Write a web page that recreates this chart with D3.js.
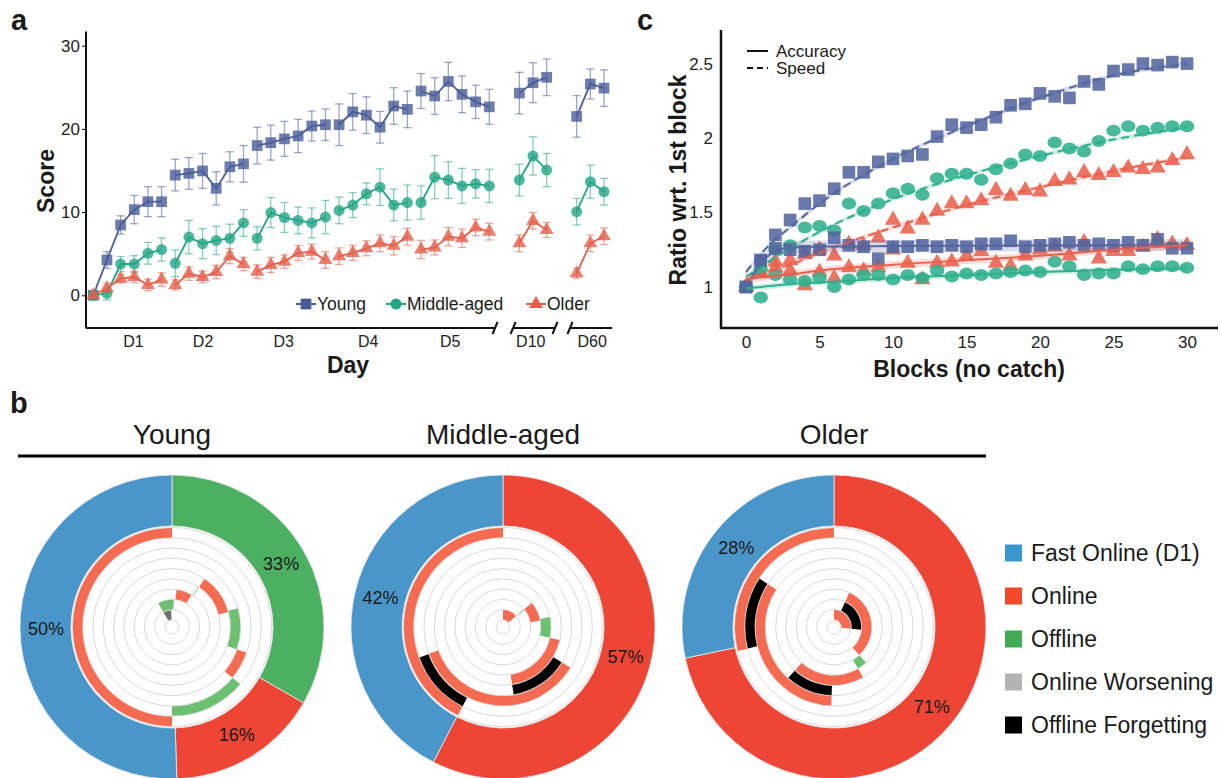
<!doctype html>
<html>
<head>
<meta charset="utf-8">
<script src="https://cdn.jsdelivr.net/npm/d3@7"></script>
<style>
  body { margin: 0; background: #fff; }
  svg text { font-family: Arial, "Liberation Sans", sans-serif; fill: #1a1a1a; }
</style>
</head>
<body>
<svg id="fig" width="1220" height="778"></svg>
<script>
// ---------------- panel a : scores per session ----------------
var groups = ["Young", "Middle-aged", "Older"];
var sessionNames = ["D1", "D2", "D3", "D4", "D5", "D10", "D60"];
var sessionSize = [6, 6, 6, 6, 6, 3, 3];
var slots = [0, 1, 2, 3, 4, 5, 6, 7, 8, 9, 10, 11, 12, 13, 14, 15, 16, 17,
             18, 19, 20, 21, 22, 23, 24, 25, 26, 27, 28, 29, 31.2, 32.2, 33.2, 35.4, 36.4, 37.4];
var dayTickPos = [2.9, 8.0, 13.9, 20.1, 26.1, 32.0, 36.5];

var scoreYoung = [0, 4.25, 8.45, 10.3, 11.25, 11.25, 14.45, 14.65, 14.95, 12.85, 15.45, 15.8,
                  18.0, 18.35, 18.8, 19.15, 20.35, 20.5, 20.5, 22.05, 21.65, 20.2, 22.75, 22.35,
                  24.55, 23.95, 25.7, 24.15, 23.25, 22.65, 24.3, 25.55, 26.2, 21.5, 25.4, 24.9];
var scoreMiddle = [0, 0.24, 3.76, 3.76, 5.05, 5.5, 3.85, 7.0, 6.2, 6.6, 6.85, 8.7,
                   6.85, 9.95, 9.35, 9.0, 8.7, 9.4, 10.2, 10.85, 12.2, 13.0, 10.85, 11.15,
                   11.15, 14.2, 13.85, 13.15, 13.4, 13.15, 13.85, 16.75, 15.05, 10.05, 13.65, 12.45];
var scoreOlder = [0, 0.84, 2.0, 2.2, 1.24, 1.9, 1.24, 2.6, 2.2, 2.8, 4.7, 3.75,
                  2.85, 3.65, 4.05, 5.1, 5.25, 4.25, 4.7, 5.1, 5.65, 6.25, 5.95, 7.05,
                  5.5, 5.75, 7.05, 6.85, 8.15, 7.65, 6.25, 8.95, 7.85, 2.65, 6.25, 7.1];
var errYoung = [0.4, 1.0, 1.1, 1.7, 1.8, 1.8, 1.9, 1.9, 2.1, 2.0, 1.8, 2.2,
                2.2, 2.1, 2.1, 2.0, 1.8, 1.9, 2.5, 2.2, 2.2, 1.9, 2.2, 2.2,
                2.1, 2.2, 2.3, 2.2, 2.0, 2.1, 2.5, 2.4, 2.2, 2.5, 1.8, 2.2];
var errMiddle = [0.3, 0.8, 0.9, 1.0, 1.3, 1.4, 1.6, 2.0, 1.8, 1.7, 1.7, 1.6,
                 1.4, 1.8, 1.8, 1.6, 1.8, 2.0, 1.6, 1.5, 1.3, 2.2, 1.9, 2.1,
                 2.0, 2.6, 2.2, 2.1, 1.7, 2.0, 1.9, 2.3, 2.0, 1.6, 2.0, 1.6];
var errOlder = [0.2, 0.6, 0.5, 0.7, 0.7, 0.8, 0.6, 0.8, 0.7, 0.8, 0.9, 0.8,
                0.8, 0.9, 0.8, 0.9, 0.9, 1.0, 1.0, 0.9, 0.9, 1.0, 1.1, 1.0,
                1.1, 0.9, 1.1, 1.1, 1.0, 1.0, 1.0, 1.0, 0.9, 0.6, 1.0, 1.0];

// ---------------- panel c : ratio to first block ----------------
var blocks = d3.range(31);
var speedYoung = [1.0, 1.18, 1.35, 1.45, 1.56, 1.58, 1.66, 1.77, 1.77, 1.84, 1.86, 1.88, 1.89, 2.01, 2.09, 2.07,
                  2.09, 2.14, 2.22, 2.23, 2.30, 2.28, 2.27, 2.38, 2.36, 2.45, 2.46, 2.50, 2.49, 2.51, 2.50];
var speedMiddle = [1.0, 1.12, 1.25, 1.28, 1.40, 1.41, 1.38, 1.56, 1.51, 1.56, 1.63, 1.66, 1.62, 1.73, 1.76, 1.76,
                   1.72, 1.79, 1.83, 1.89, 1.88, 1.97, 1.93, 1.91, 1.98, 2.05, 2.08, 2.05, 2.07, 2.08, 2.08];
var speedOlder = [1.0, 1.10, 1.17, 1.18, 1.22, 1.25, 1.21, 1.29, 1.28, 1.33, 1.45, 1.39, 1.45, 1.51, 1.56, 1.56,
                  1.58, 1.65, 1.61, 1.65, 1.64, 1.71, 1.72, 1.77, 1.75, 1.77, 1.80, 1.79, 1.80, 1.85, 1.89];
var accYoung = [1.0, 1.18, 1.26, 1.25, 1.24, 1.25, 1.33, 1.28, 1.27, 1.19, 1.27, 1.27, 1.28, 1.27, 1.28, 1.27,
                1.29, 1.29, 1.31, 1.27, 1.28, 1.29, 1.30, 1.28, 1.29, 1.28, 1.30, 1.28, 1.32, 1.26, 1.26];
var accMiddle = [1.0, 0.93, 1.08, 1.05, 1.04, 1.06, 1.0, 1.05, 1.08, 1.08, 1.05, 1.08, 1.06, 1.11, 1.07, 1.09,
                 1.08, 1.09, 1.10, 1.11, 1.10, 1.17, 1.14, 1.08, 1.09, 1.09, 1.14, 1.12, 1.14, 1.14, 1.13];
var accOlder = [1.0, 1.09, 1.13, 1.11, 1.01, 1.10, 1.06, 1.13, 1.11, 1.13, 1.25, 1.16, 1.05, 1.16, 1.17, 1.21,
                1.24, 1.16, 1.14, 1.21, 1.25, 1.27, 1.21, 1.30, 1.19, 1.24, 1.24, 1.27, 1.32, 1.29, 1.28];
var fitBlocks = [0, 1, 2, 3, 5, 10, 15, 20, 25, 30];
var fitSpeedYoung = [1.10, 1.22, 1.32, 1.40, 1.56, 1.86, 2.08, 2.27, 2.42, 2.50];
var fitSpeedMiddle = [1.07, 1.13, 1.20, 1.26, 1.37, 1.59, 1.75, 1.88, 1.99, 2.07];
var fitSpeedOlder = [1.05, 1.08, 1.12, 1.15, 1.23, 1.40, 1.55, 1.67, 1.78, 1.87];
var fitAccYoung = [1.00, 1.16, 1.24, 1.265, 1.272, 1.275, 1.277, 1.279, 1.28, 1.28];
var fitAccMiddle = [0.99, 1.0, 1.01, 1.02, 1.03, 1.06, 1.08, 1.10, 1.115, 1.125];
var fitAccOlder = [1.05, 1.065, 1.075, 1.085, 1.11, 1.15, 1.18, 1.21, 1.25, 1.28];
var fitCI = [0.015, 0.015, 0.015, 0.04, 0.02, 0.025];

// ---------------- panel b : learning components ----------------
var shareYoung = [33, 16, 50], shareYoungKind = ["off", "on", "fast"];
var shareMiddle = [57, 42], shareMiddleKind = ["on", "fast"];
var shareOlder = [71, 28], shareOlderKind = ["on", "fast"];
// [track (1 = innermost), from deg, to deg, kind]
var arcsYoung = [[9, 180, 360, "on"], [8, 130, 180, "off"], [7, 109, 130, "on"], [6, 74, 109, "off"],
                 [5, 34, 75, "on"], [4, 33, 34, "off"], [3, 7, 31, "on"], [2, -30, 4, "off"], [1, -30, -3, "worse"]];
var arcsMiddle = [[9, 207, 360, "on"], [8, 207, 250, "forget"], [7, 121, 250, "on"], [6, 121, 171, "forget"],
                  [5, 103, 171, "on"], [4, 78, 103, "off"], [3, 50, 80, "on"], [2, 49.5, 51, "off"], [1, 0, 50, "on"]];
var arcsOlder = [[9, 256, 360, "on"], [8, 256, 303, "forget"], [7, 182, 303, "on"], [6, 182, 222, "forget"],
                 [5, 150, 222, "on"], [4, 138, 150, "off"], [3, 24, 138, "on"], [2, 24, 96, "forget"], [1, 0, 96, "on"]];
var legendNames = ["Fast Online (D1)", "Online", "Offline", "Online Worsening", "Offline Forgetting"];

var colA = {"Young": "#4a5c99", "Middle-aged": "#22a585", "Older": "#e65f4b"};
var colC = {"Young": "#5466a0", "Middle-aged": "#2fb08d", "Older": "#ea604c"};
var shape = {"Young": d3.symbolSquare, "Middle-aged": d3.symbolCircle, "Older": d3.symbolTriangle};
var outerCol = {fast: "#4a96c8", on: "#ee4636", off: "#4caf62"};
var innerCol = {on: "#f46b51", off: "#6cc072", worse: "#707070", forget: "#000000"};
var legendCol = ["#3898cb", "#f24a28", "#40ab52", "#b3b3b3", "#000000"];

var svg = d3.select("#fig");

// ================= panel a =================
var xA = d3.scaleLinear().domain([0, 29]).range([93.3, 489.3]);
var yA = d3.scaleLinear().domain([0, 30]).range([295.3, 45.7]);
var gA = svg.append("g");

gA.append("text").attr("x", 11).attr("y", 30).text("a")
  .style("font-size", "29px").style("font-weight", "bold");

var yAx = gA.append("g").attr("transform", "translate(86,0)")
  .call(d3.axisLeft(yA).tickValues([0, 10, 20, 30]).tickSize(4).tickPadding(2));
yAx.select(".domain").remove();
yAx.selectAll("text").style("font-size", "17px").style("fill", "#222");
gA.append("line").attr("x1", 86).attr("x2", 86).attr("y1", yA(31.7)).attr("y2", yA(-3.95))
  .attr("stroke", "#111").attr("stroke-width", 2);

var xAx = gA.append("g").attr("transform", "translate(0,328)")
  .call(d3.axisBottom(xA).tickValues(dayTickPos).tickFormat(function(d, i) { return sessionNames[i]; })
  .tickSize(0).tickPadding(8));
xAx.select(".domain").remove();
xAx.selectAll("text").style("font-size", "16px").style("fill", "#222");

// broken x axis
var axisPieces = [[-0.53, 29.42], [30.74, 33.81], [34.91, 38.0]];
axisPieces.forEach(function(p, i) {
  gA.append("line").attr("x1", xA(p[0])).attr("x2", xA(p[1])).attr("y1", 328).attr("y2", 328)
    .attr("stroke", "#111").attr("stroke-width", 2);
  var ends = i === 0 ? [p[1]] : [p[0], p[1]];
  if (i === 2) ends = [p[0]];
  ends.forEach(function(e) {
    gA.append("line").attr("x1", xA(e) - 2.5).attr("x2", xA(e) + 2.5).attr("y1", 334).attr("y2", 322)
      .attr("stroke", "#111").attr("stroke-width", 2);
  });
});

gA.append("text").attr("x", 348).attr("y", 373).attr("text-anchor", "middle").text("Day")
  .style("font-size", "23px").style("font-weight", "bold");
gA.append("text").attr("transform", "translate(54,181) rotate(-90)").attr("text-anchor", "middle").text("Score")
  .style("font-size", "23px").style("font-weight", "bold");

var seriesA = [
  {name: "Young", v: scoreYoung, e: errYoung},
  {name: "Middle-aged", v: scoreMiddle, e: errMiddle},
  {name: "Older", v: scoreOlder, e: errOlder}
];
var symA = {"Young": 115, "Middle-aged": 95, "Older": 85};

seriesA.forEach(function(s) {
  var pts = s.v.map(function(v, i) { return {x: slots[i], y: v, e: s.e[i]}; });
  var c = colA[s.name];
  // error bars
  var eb = gA.append("g").attr("stroke", c).attr("stroke-opacity", 0.55).attr("stroke-width", 1.3);
  pts.forEach(function(p) {
    eb.append("line").attr("x1", xA(p.x)).attr("x2", xA(p.x)).attr("y1", yA(p.y - p.e)).attr("y2", yA(p.y + p.e));
    eb.append("line").attr("x1", xA(p.x) - 4).attr("x2", xA(p.x) + 4).attr("y1", yA(p.y - p.e)).attr("y2", yA(p.y - p.e));
    eb.append("line").attr("x1", xA(p.x) - 4).attr("x2", xA(p.x) + 4).attr("y1", yA(p.y + p.e)).attr("y2", yA(p.y + p.e));
  });
  // line per session
  var start = 0;
  sessionSize.forEach(function(n) {
    var seg = pts.slice(start, start + n);
    start += n;
    gA.append("path").datum(seg)
      .attr("d", d3.line().x(function(d) { return xA(d.x); }).y(function(d) { return yA(d.y); }))
      .attr("fill", "none").attr("stroke", c).attr("stroke-width", 1.8);
  });
  gA.append("g").selectAll("path").data(pts).enter().append("path")
    .attr("d", d3.symbol().type(shape[s.name]).size(symA[s.name]))
    .attr("transform", function(d) { return "translate(" + xA(d.x) + "," + yA(d.y) + ")"; })
    .attr("fill", c).attr("fill-opacity", 0.8);
});

// legend a
var legAx = [296, 386, 526];
groups.forEach(function(g, i) {
  var lg = gA.append("g").attr("transform", "translate(" + legAx[i] + ",304)");
  lg.append("line").attr("x1", 0).attr("x2", 20).attr("stroke", colA[g]).attr("stroke-width", 2);
  lg.append("path").attr("d", d3.symbol().type(shape[g]).size(symA[g])).attr("transform", "translate(10,0)")
    .attr("fill", colA[g]);
  lg.append("text").attr("x", 21).attr("y", 0).attr("dy", "0.35em").text(g).style("font-size", "17.5px");
});

// ================= panel c =================
var xC = d3.scaleLinear().domain([0, 30]).range([746, 1187]);
var yC = d3.scaleLinear().domain([1, 2.5]).range([287, 63.6]);
var gC = svg.append("g");

gC.append("text").attr("x", 637).attr("y", 30).text("c")
  .style("font-size", "29px").style("font-weight", "bold");

var yCx = gC.append("g").attr("transform", "translate(721,0)")
  .call(d3.axisLeft(yC).tickValues([1, 1.5, 2, 2.5]).tickFormat(d3.format("~g")).tickSize(0).tickPadding(8));
yCx.select(".domain").remove();
yCx.selectAll("text").style("font-size", "17px").style("fill", "#222");
var xCx = gC.append("g").attr("transform", "translate(0,328)")
  .call(d3.axisBottom(xC).tickValues([0, 5, 10, 15, 20, 25, 30]).tickSize(0).tickPadding(8));
xCx.select(".domain").remove();
xCx.selectAll("text").style("font-size", "17px").style("fill", "#222");
gC.append("line").attr("x1", 721).attr("x2", 721).attr("y1", 30).attr("y2", 329)
  .attr("stroke", "#111").attr("stroke-width", 2.5);
gC.append("line").attr("x1", 720).attr("x2", 1218).attr("y1", 328).attr("y2", 328)
  .attr("stroke", "#111").attr("stroke-width", 2.5);

gC.append("text").attr("x", 969).attr("y", 377).attr("text-anchor", "middle").text("Blocks (no catch)")
  .style("font-size", "23px").style("font-weight", "bold");
gC.append("text").attr("transform", "translate(686,180) rotate(-90)").attr("text-anchor", "middle")
  .text("Ratio wrt. 1st block").style("font-size", "23px").style("font-weight", "bold");

var pointsC = [
  {name: "Older", v: accOlder}, {name: "Older", v: speedOlder},
  {name: "Middle-aged", v: accMiddle}, {name: "Middle-aged", v: speedMiddle},
  {name: "Young", v: accYoung}, {name: "Young", v: speedYoung}
];
var symC = {"Young": 160, "Middle-aged": 125, "Older": 115};
pointsC.forEach(function(s) {
  gC.append("g").selectAll("path").data(s.v).enter().append("path")
    .attr("d", d3.symbol().type(shape[s.name]).size(symC[s.name]))
    .attr("transform", function(d, i) {
      return "translate(" + xC(blocks[i]) + "," + yC(d) + ")" + (s.name === "Middle-aged" ? " scale(1.15,0.95)" : "");
    })
    .attr("fill", colC[s.name]).attr("fill-opacity", 0.88);
});

var fitsC = [
  {name: "Young", v: fitSpeedYoung, dash: true},
  {name: "Middle-aged", v: fitSpeedMiddle, dash: true},
  {name: "Older", v: fitSpeedOlder, dash: true},
  {name: "Young", v: fitAccYoung, dash: false},
  {name: "Middle-aged", v: fitAccMiddle, dash: false},
  {name: "Older", v: fitAccOlder, dash: false}
];
fitsC.forEach(function(f, k) {
  var pts = f.v.map(function(v, i) { return {b: fitBlocks[i], y: v}; });
  var ci = fitCI[k];
  gC.append("path").datum(pts)
    .attr("d", d3.area().curve(d3.curveMonotoneX)
      .x(function(d) { return xC(d.b); })
      .y0(function(d) { return yC(d.y - ci); })
      .y1(function(d) { return yC(d.y + ci); }))
    .attr("fill", colC[f.name]).attr("fill-opacity", 0.22);
  gC.append("path").datum(pts)
    .attr("d", d3.line().curve(d3.curveMonotoneX).x(function(d) { return xC(d.b); }).y(function(d) { return yC(d.y); }))
    .attr("fill", "none").attr("stroke", colC[f.name]).attr("stroke-width", 2)
    .attr("stroke-dasharray", f.dash ? "8,5" : null);
});

// legend c
[["Accuracy", null], ["Speed", "6,4"]].forEach(function(l, i) {
  var y = 51 + i * 17;
  gC.append("line").attr("x1", 747).attr("x2", 768).attr("y1", y).attr("y2", y)
    .attr("stroke", "#111").attr("stroke-width", 2).attr("stroke-dasharray", l[1]);
  gC.append("text").attr("x", 776).attr("y", y).attr("dy", "0.35em").text(l[0]).style("font-size", "17px");
});

// ================= panel b =================
var gB = svg.append("g");
gB.append("text").attr("x", 10).attr("y", 413).text("b")
  .style("font-size", "29px").style("font-weight", "bold");
gB.append("line").attr("x1", 18).attr("x2", 986).attr("y1", 456).attr("y2", 456)
  .attr("stroke", "#000").attr("stroke-width", 3);

var donuts = [
  {title: "Young", cx: 172, tx: 172, share: shareYoung, kind: shareYoungKind, arcs: arcsYoung},
  {title: "Middle-aged", cx: 503, tx: 503, share: shareMiddle, kind: shareMiddleKind, arcs: arcsMiddle},
  {title: "Older", cx: 834, tx: 834, share: shareOlder, kind: shareOlderKind, arcs: arcsOlder}
];
var cy = 627;
var nTracks = 9, r0 = 7, r1 = 99.5;
var rTrack = d3.scaleLinear().domain([0, nTracks]).range([r0, r1]);
var rad = Math.PI / 180;
var outerArc = d3.arc().innerRadius(101).outerRadius(152);
var labelArc = d3.arc().innerRadius(126).outerRadius(126);
var pie = d3.pie().sort(null).value(function(d) { return d; });

donuts.forEach(function(dn) {
  gB.append("text").attr("x", dn.tx).attr("y", 444).attr("text-anchor", "middle").text(dn.title)
    .style("font-size", "28px");
  var g = gB.append("g").attr("transform", "translate(" + dn.cx + "," + cy + ")");
  var slices = pie(dn.share);
  g.selectAll("path.outer").data(slices).enter().append("path").attr("class", "outer")
    .attr("d", outerArc)
    .attr("fill", function(d, i) { return outerCol[dn.kind[i]]; })
    .attr("stroke", "#eaeaea").attr("stroke-width", 0.8);
  g.append("circle").attr("r", r1 + 0.5).attr("fill", "#fff");
  g.selectAll("circle.ring").data(d3.range(nTracks + 1)).enter().append("circle").attr("class", "ring")
    .attr("r", function(k) { return rTrack(k); })
    .attr("fill", "none").attr("stroke", "#cfcfcf").attr("stroke-width", 0.8);
  g.selectAll("path.inner").data(dn.arcs).enter().append("path").attr("class", "inner")
    .attr("d", function(a) {
      return d3.arc().innerRadius(rTrack(a[0] - 1) + 0.4).outerRadius(rTrack(a[0]) - 0.4)
        .startAngle(a[1] * rad).endAngle(a[2] * rad)();
    })
    .attr("fill", function(a) { return innerCol[a[3]]; });
  g.selectAll("text.pct").data(slices).enter().append("text").attr("class", "pct")
    .attr("transform", function(d) { return "translate(" + labelArc.centroid(d) + ")"; })
    .attr("text-anchor", "middle").attr("dy", "0.35em")
    .text(function(d) { return d.data + "%"; })
    .style("font-size", "18px");
});

// legend b
var legB = gB.append("g").attr("transform", "translate(1005,553)");
legendNames.forEach(function(n, i) {
  legB.append("rect").attr("x", 0).attr("y", i * 43 - 8.5).attr("width", 17).attr("height", 17)
    .attr("fill", legendCol[i]);
  legB.append("text").attr("x", 26).attr("y", i * 43).attr("dy", "0.35em").text(n).style("font-size", "23px");
});
</script>
</body>
</html>
